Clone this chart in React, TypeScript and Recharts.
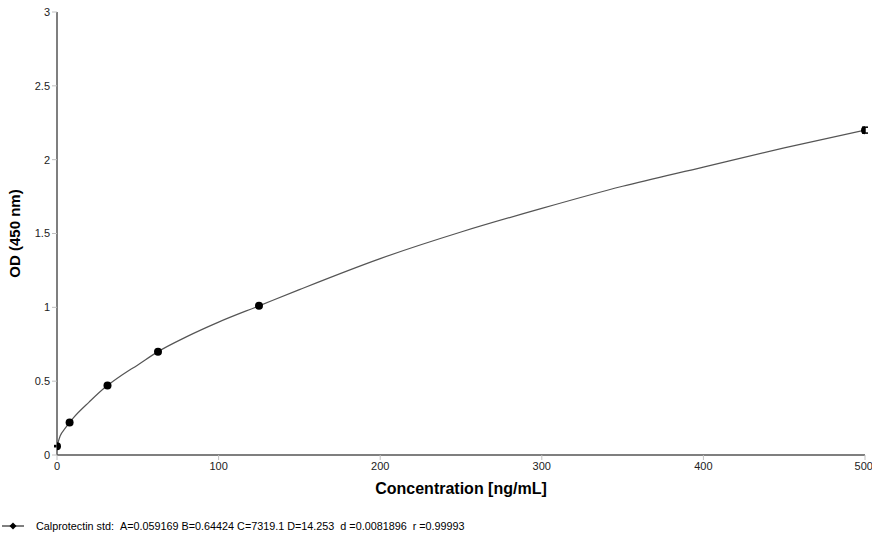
import React from "react";
import { ComposedChart, Line, Scatter, XAxis, YAxis, ErrorBar } from "recharts";

const xTicks = [0, 100, 200, 300, 400, 500];
const yTicks = [0, 0.5, 1, 1.5, 2, 2.5, 3];

const stdConc = [0, 7.8, 31.25, 62.5, 125, 500];
const stdOD = [0.06, 0.22, 0.47, 0.7, 1.01, 2.2];
const stdErr = [0.004, 0.005, 0.006, 0.006, 0.006, 0.02];

const fitConc = [0, 2, 5, 10, 20, 30, 40, 50, 62.5, 80, 100, 125, 150, 200, 250, 300, 350, 400, 450, 500];
const fitOD = [0.06, 0.13, 0.18, 0.25, 0.36, 0.46, 0.54, 0.61, 0.7, 0.8, 0.9, 1.01, 1.12, 1.33, 1.51, 1.67, 1.82, 1.95, 2.08, 2.2];

const legendText = "Calprotectin std:\u00a0\u00a0A=0.059169 B=0.64424 C=7319.1 D=14.253\u00a0\u00a0d =0.0081896\u00a0\u00a0r =0.99993";

const stdData = stdConc.map((x, i) => ({ x, y: stdOD[i], e: stdErr[i] }));
const fitData = fitConc.map((x, i) => ({ x, y: fitOD[i] }));

const font = "Arial, 'Liberation Sans', sans-serif";

export default function App() {
  return (
    <div style={{ position: "absolute", left: 0, top: 0, width: 872, height: 533, background: "#fff", fontFamily: font }}>
      <ComposedChart width={872} height={533} margin={{ top: 12, right: 7, left: 0, bottom: 28 }}>
        <XAxis
          type="number"
          dataKey="x"
          domain={[0, 500]}
          ticks={xTicks}
          height={50}
          axisLine={{ stroke: "#555", strokeWidth: 1.5 }}
          tickLine={{ stroke: "#c0c0c0" }}
          tickSize={5}
          tick={{ fill: "#222", fontSize: 11, fontFamily: font }}
          label={{ value: "Concentration [ng/mL]", position: "insideBottom", offset: 11, style: { fontSize: 16, fontWeight: "bold", fill: "#000", fontFamily: font } }}
          allowDataOverflow
        />
        <YAxis
          type="number"
          dataKey="y"
          domain={[0, 3]}
          ticks={yTicks}
          width={57}
          axisLine={{ stroke: "#555", strokeWidth: 1.5 }}
          tickLine={{ stroke: "#c0c0c0" }}
          tickSize={5}
          tick={{ fill: "#222", fontSize: 11, fontFamily: font }}
          label={{ value: "OD (450 nm)", angle: -90, position: "insideLeft", offset: 15, style: { textAnchor: "middle", fontSize: 15, fontWeight: "bold", fill: "#000", fontFamily: font } }}
        />
        <Line
          data={fitData}
          dataKey="y"
          type="monotone"
          stroke="#555"
          strokeWidth={1.2}
          dot={false}
          activeDot={false}
          isAnimationActive={false}
        />
        <Scatter data={stdData} dataKey="y" fill="#000" isAnimationActive={false} shape={(p: any) => <circle cx={p.cx} cy={p.cy} r={4} fill="#000" />}>
          <ErrorBar dataKey="e" direction="y" width={3} stroke="#000" strokeWidth={1.5} />
        </Scatter>
      </ComposedChart>
      <svg style={{ position: "absolute", left: 0, top: 518 }} width={30} height={16}>
        <line x1={2} y1={8} x2={24} y2={8} stroke="#000" strokeWidth={1} />
        <path d="M13 4.5 L16.5 8 L13 11.5 L9.5 8 Z" fill="#000" />
      </svg>
      <div style={{ position: "absolute", left: 36, top: 519, fontSize: 10.8, color: "#000", whiteSpace: "nowrap", lineHeight: "14px" }}>
        {legendText}
      </div>
    </div>
  );
}
